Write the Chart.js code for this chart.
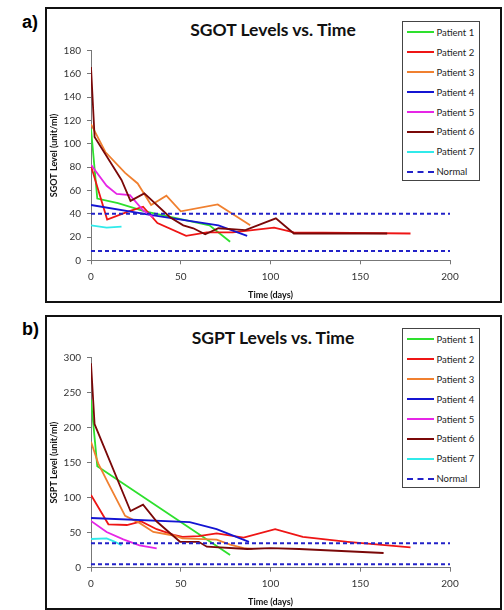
<!DOCTYPE html>
<html><head><meta charset="utf-8">
<script src="https://cdn.jsdelivr.net/npm/chart.js@4.4.1/dist/chart.umd.min.js"></script>
<style>
html,body{margin:0;padding:0;background:#fff;width:504px;height:610px;overflow:hidden;font-family:Lato,"Open Sans",sans-serif;}
.box{position:absolute;border:2px solid #111;box-sizing:border-box;}
.lbl{position:absolute;font:bold 18px "Liberation Sans",Arial,sans-serif;color:#000;}
.title{position:absolute;font-family:Lato,sans-serif;font-weight:bold;font-size:17.5px;color:#111;transform:translate(-50%,-50%);white-space:nowrap;}
canvas{position:absolute;left:0;}
.legend{position:absolute;border:1.5px solid #444;box-sizing:border-box;background:#fff;}
.item{position:absolute;left:4px;height:12px;display:flex;align-items:center;font-size:9.5px;color:#222;white-space:nowrap;}
.sw{width:27px;height:0;border-top:2px solid;margin-right:3px;}
</style></head><body>
<div class="box" style="left:45px;top:7px;width:457px;height:296px;"></div>
<div class="box" style="left:45px;top:315px;width:457px;height:295px;"></div>
<div class="lbl" style="left:22px;top:12px;">a)</div>
<div class="lbl" style="left:22px;top:319px;">b)</div>
<div class="title" style="left:273px;top:29px;">SGOT Levels vs. Time</div>
<div class="title" style="left:273px;top:337px;">SGPT Levels vs. Time</div>
<canvas id="c1" style="top:0;width:504px;height:305px;"></canvas>
<canvas id="c2" style="top:305px;width:504px;height:305px;"></canvas>
<div class="legend" id="lg1" style="left:401.5px;top:21px;width:78px;height:159.5px;"></div>
<div class="legend" id="lg2" style="left:401.5px;top:328px;width:78px;height:160px;"></div>
<script>
// ---- data ----
const patientNames = ['Patient 1','Patient 2','Patient 3','Patient 4','Patient 5','Patient 6','Patient 7'];
const normalName = 'Normal';
const xTicks = [0, 50, 100, 150, 200];

// SGOT (chart a): [day, level]
const sgotP1 = [[0,113],[3.5,53],[15,49],[30,42],[66,30],[77.5,16]];
const sgotP2 = [[0,81],[9,35],[21,42],[29,46],[37,32],[53,21],[64.5,24],[79,24],[102,28],[113,24],[178,23]];
const sgotP3 = [[0,117],[8,93],[19,75],[26,66],[33.5,47.5],[42,55.5],[50,42],[70.6,48],[88.7,30]];
const sgotP4 = [[0,47.5],[33,39],[71,30],[87,21]];
const sgotP5 = [[0,82],[8.7,64],[14.3,57],[21.7,56],[29,43],[34.7,37]];
const sgotP6 = [[0,166],[2,106],[17,69],[22,51],[29.7,57.5],[44,37],[51.4,30],[57,27.5],[63.6,22.3],[71,27.5],[86,26],[103,36],[113,23],[165,23]];
const sgotP7 = [[0,30],[8.7,28],[17,29]];
const sgotNormal = [40, 8];
const sgotYTicks = [0,20,40,60,80,100,120,140,160,180];

// SGPT (chart b): [day, level]
const sgptP1 = [[0,240],[3.5,145],[77.5,18]];
const sgptP2 = [[0,104],[9.7,62],[20,61],[28,66],[36.6,55],[46,47],[51,44],[60,45],[70,49],[85,43],[102.6,55],[118,44],[143,37],[178,29]];
const sgptP3 = [[0,180],[4,149],[9.7,120],[19,74],[27,64],[34.7,51],[46,46],[51,42],[70,40],[77.5,33],[85,28],[90,27]];
const sgptP4 = [[0,71],[55,65],[70,55],[88,37]];
const sgptP5 = [[0,66.7],[8.7,51],[18,40.5],[27,32],[36.6,27.6]];
const sgptP6 = [[0,292],[2,205],[22,81],[29,90],[36.6,66],[49.6,37],[60,37],[64.5,30],[87,26.7],[100,28],[116,26.7],[163,21]];
const sgptP7 = [[0,41],[8.7,42],[13.4,37],[17,32]];
const sgptNormal = [35, 5];
const sgptYTicks = [0,50,100,150,200,250,300];

// ---- styles ----
const patientColors = ['#2ee02e','#ee1515','#f08030','#1414d2','#e626e6','#7a0808','#30eaea'];
const normalColor = '#2222c8';

function toXY(arr){ return arr.map(p => ({x:p[0], y:p[1]})); }

function buildLegend(id){
  const lg = document.getElementById(id);
  const names = patientNames.concat([normalName]);
  names.forEach((n,i) => {
    const it = document.createElement('div');
    it.className = 'item';
    it.style.top = (4.4 + i*19.9) + 'px';
    const sw = document.createElement('div');
    sw.className = 'sw';
    if (i < patientNames.length) { sw.style.borderTopColor = patientColors[i]; }
    else { sw.style.borderTop = '2px dashed ' + normalColor; }
    const tx = document.createElement('span');
    tx.textContent = n;
    it.appendChild(sw); it.appendChild(tx);
    lg.appendChild(it);
  });
}

function makeChart(id, series, normal, yTicks, yTitle, padTop, padBottom, xTitlePad){
  const ds = series.map((s,i) => ({
    label: patientNames[i], data: toXY(s), borderColor: patientColors[i],
    borderWidth: 1.8, pointRadius: 0, showLine: true, fill: false, tension: 0, order: -i
  }));
  normal.forEach((v,k) => {
    ds.push({ label: normalName, data: [{x:xTicks[0],y:v},{x:xTicks[xTicks.length-1],y:v}],
      borderColor: normalColor, borderWidth: 2, borderDash: [4,3], pointRadius: 0,
      showLine: true, fill: false, order: -10-k });
  });
  const yMax = yTicks[yTicks.length-1];
  const yStep = yTicks[1]-yTicks[0];
  new Chart(document.getElementById(id), {
    type: 'scatter',
    data: { datasets: ds },
    options: {
      responsive: false, animation: false, devicePixelRatio: 1,
      layout: { padding: { left: 47, right: 54, top: padTop, bottom: padBottom } },
      plugins: { legend: { display: false }, tooltip: { enabled: false }, title: { display: false } },
      scales: {
        x: {
          type: 'linear', min: xTicks[0], max: xTicks[xTicks.length-1],
          afterFit: s => { s.height = 40; },
          afterBuildTicks: s => { s.ticks = xTicks.map(v => ({value:v})); },
          ticks: { padding: 6, color: '#333', font: { family: 'Lato', size: 10 } },
          grid: { drawOnChartArea: false, drawTicks: true, tickLength: 4, color: '#777' },
          border: { display: true, color: '#777', width: 1 },
          title: { display: true, text: 'Time (days)', color: '#111', padding: { top: 0, bottom: xTitlePad },
                   font: { family: 'Lato', size: 9, weight: 'bold' } }
        },
        y: {
          type: 'linear', min: 0, max: yMax,
          afterFit: s => { s.width = 44; },
          afterBuildTicks: s => { s.ticks = yTicks.map(v => ({value:v})); },
          ticks: { padding: 6, color: '#333', font: { family: 'Lato', size: 10 }, stepSize: yStep },
          grid: { drawOnChartArea: false, drawTicks: true, tickLength: 4, color: '#777' },
          border: { display: true, color: '#777', width: 1 },
          title: { display: true, text: yTitle, color: '#111', padding: { top: 2, bottom: 0 },
                   font: { family: 'Lato', size: 9, weight: 'bold' } }
        }
      }
    }
  });
}

const c1 = document.getElementById('c1'); c1.width = 504; c1.height = 305;
const c2 = document.getElementById('c2'); c2.width = 504; c2.height = 305;
makeChart('c1', [sgotP1,sgotP2,sgotP3,sgotP4,sgotP5,sgotP6,sgotP7], sgotNormal, sgotYTicks, 'SGOT Level (unit/ml)', 50.7, 4.7, 0);
makeChart('c2', [sgptP1,sgptP2,sgptP3,sgptP4,sgptP5,sgptP6,sgptP7], sgptNormal, sgptYTicks, 'SGPT Level (unit/ml)', 52.7, 2.3, 0.6);
buildLegend('lg1');
buildLegend('lg2');
</script>
</body></html>
